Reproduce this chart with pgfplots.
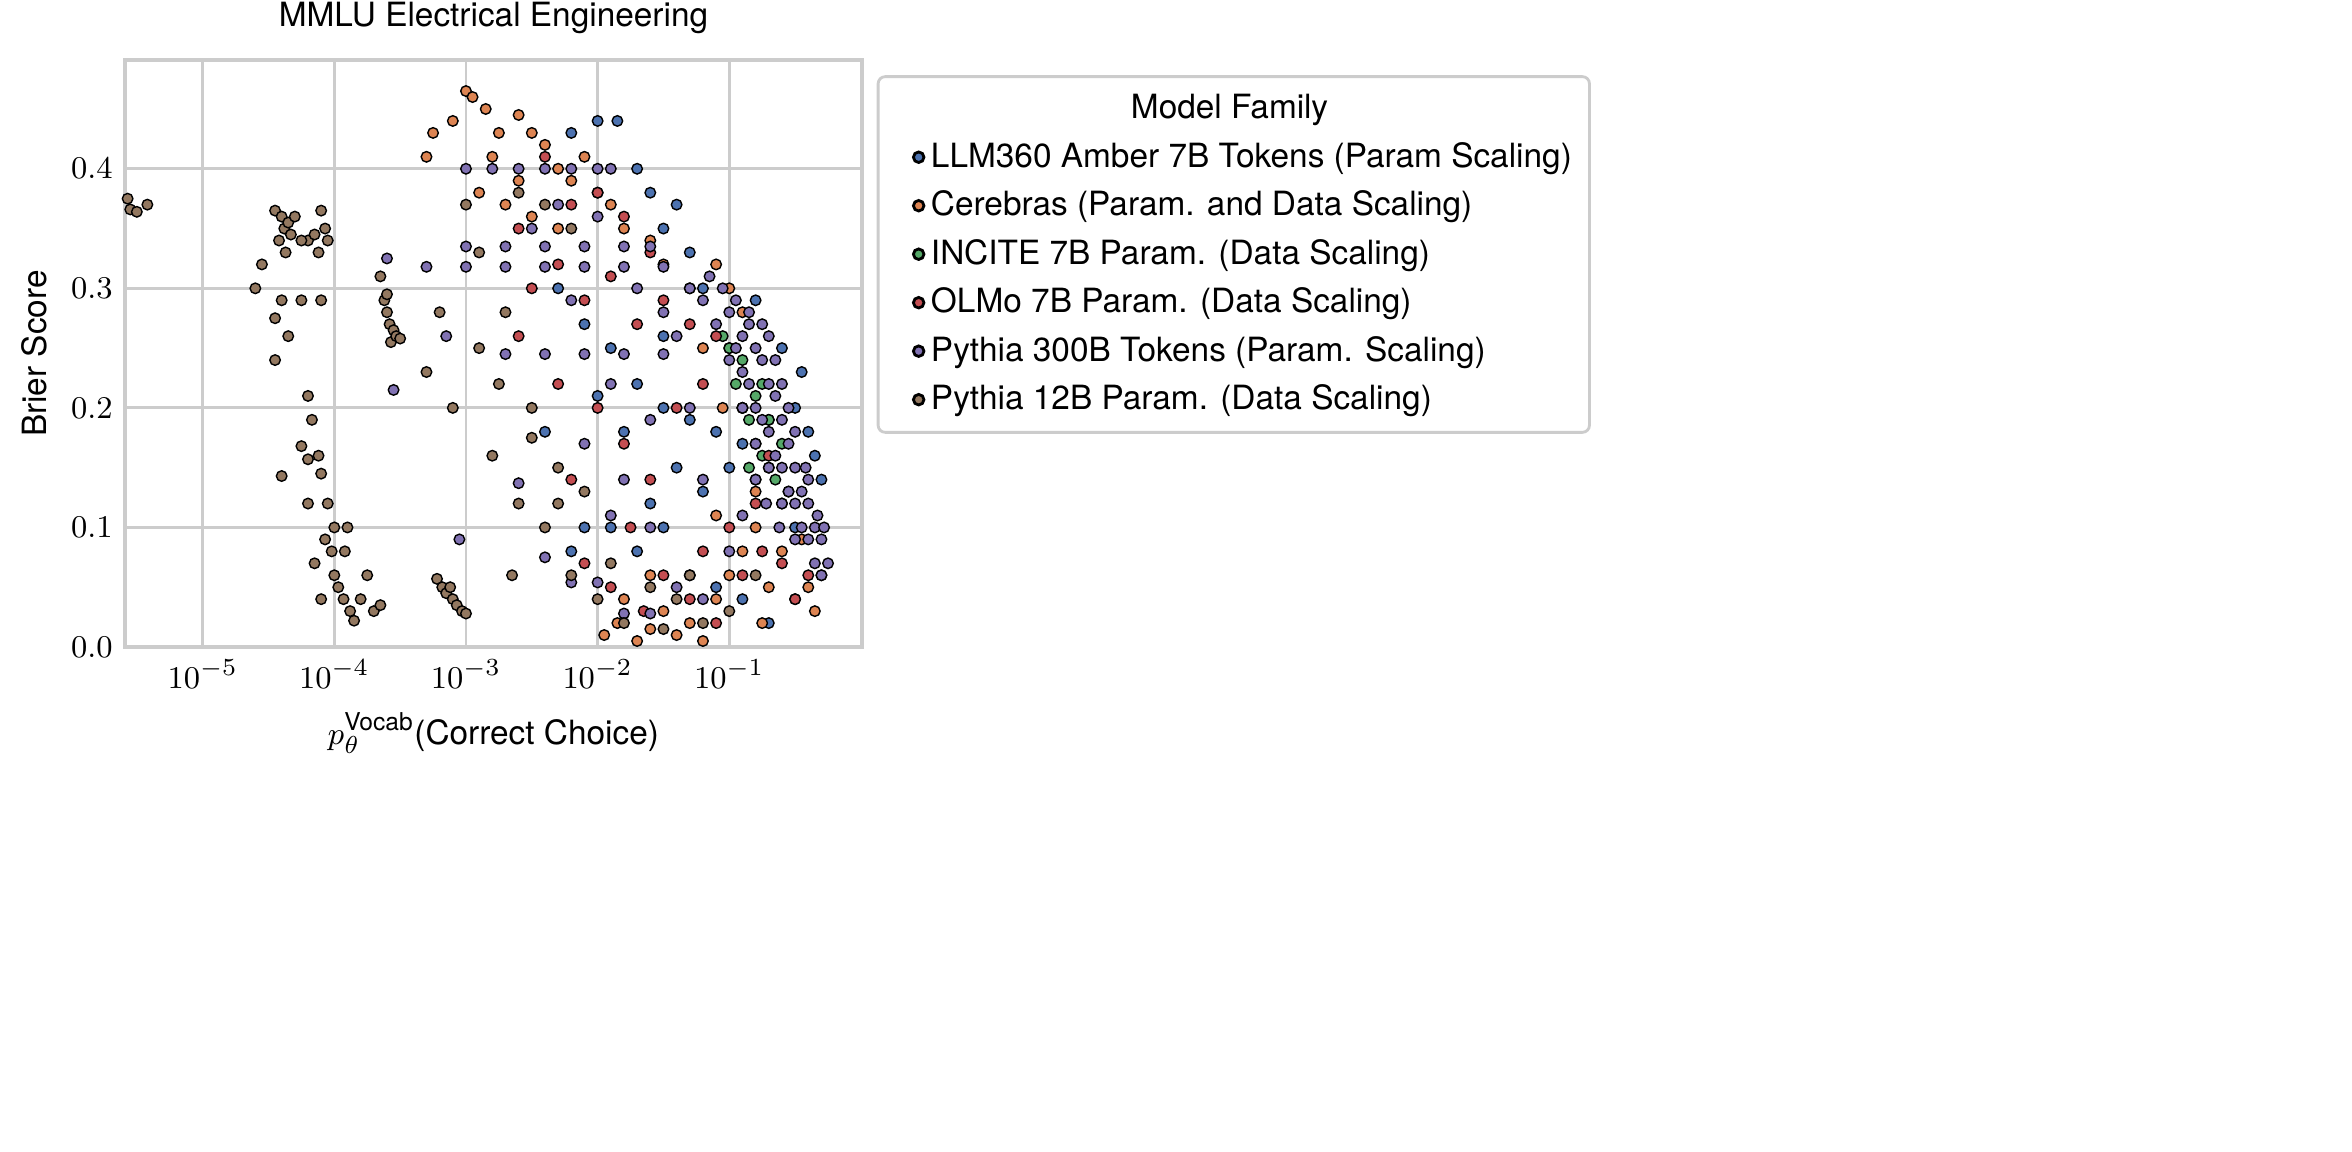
\documentclass[border=0pt]{standalone}
\usepackage{pgfplots}
\pgfplotsset{compat=1.18}
\usepackage{fontspec}
\setmainfont{TeX Gyre Heros}
\definecolor{cB}{HTML}{4C72B0}
\definecolor{cO}{HTML}{DD8452}
\definecolor{cG}{HTML}{55A868}
\definecolor{cR}{HTML}{C44E52}
\definecolor{cP}{HTML}{8172B3}
\definecolor{cN}{HTML}{937860}
\definecolor{gr}{HTML}{CCCCCC}
\begin{document}
\begin{tikzpicture}[x=1cm,y=1cm]
\path[use as bounding box] (-1.25,-5.05) rectangle (22.27,6.47);
\begin{axis}[at={(0,0)},anchor=south west,scale only axis,width=7.37cm,height=5.87cm,
 xmin=-5.59,xmax=0.008,ymin=0,ymax=0.491,
 xtick={-5,-4,-3,-2,-1},xticklabels={$10^{-5}$,$10^{-4}$,$10^{-3}$,$10^{-2}$,$10^{-1}$},
 ytick={0,0.1,0.2,0.3,0.4},yticklabel style={/pgf/number format/.cd,fixed,fixed zerofill,precision=1},
 grid=major,grid style={gr,line width=0.8pt},axis line style={gr,line width=1.2pt},
 major tick length=0pt,
 tick label style={font=\fontsize{9.5}{11}\selectfont},
 label style={font=\fontsize{9.5}{11}\selectfont},
 title style={font=\fontsize{9.5}{11}\selectfont,yshift=-2pt},
 title={MMLU Electrical Engineering},
 xlabel={$p_\theta^{\mbox{\fontsize{7}{8}\selectfont Vocab}}$(Correct Choice)},
 ylabel={Brier Score},
 legend style={at={(1.02,0.974)},anchor=north west,draw=gr,line width=0.8pt,rounded corners=2pt,
  font=\fontsize{9.5}{11}\selectfont,row sep=1.2pt,inner sep=3pt,cells={anchor=west}},
 legend cell align=left,
 every axis plot/.append style={only marks,mark=*,mark size=1.5pt,mark options={draw=white,line width=0.25pt}},
]
\addlegendimage{empty legend}
\addlegendentry{\hspace*{2.0cm}Model Family}
\addplot[mark options={fill=cB}] coordinates {(-2.0,0.44)(-1.85,0.44)(-2.2,0.43)(-1.7,0.4)(-1.6,0.38)(-1.5,0.35)(-1.4,0.37)(-1.3,0.33)(-1.2,0.3)(-2.3,0.3)(-2.1,0.27)(-1.9,0.25)(-1.7,0.22)(-1.5,0.2)(-1.3,0.19)(-1.1,0.18)(-0.9,0.17)(-0.7,0.19)(-0.5,0.2)(-0.4,0.18)(-0.3,0.14)(-1.4,0.15)(-1.2,0.13)(-1.0,0.15)(-0.8,0.14)(-0.6,0.12)(-1.6,0.12)(-1.9,0.1)(-2.1,0.1)(-2.2,0.08)(-1.7,0.08)(-1.5,0.1)(-1.3,0.06)(-1.1,0.05)(-0.9,0.04)(-0.7,0.02)(-0.5,0.1)(-0.45,0.23)(-0.6,0.25)(-0.8,0.29)(-1.5,0.26)(-1.8,0.18)(-2.4,0.18)(-2.0,0.21)(-1.0,0.25)(-0.35,0.16)};
\addlegendentry{LLM360 Amber 7B Tokens (Param Scaling)}
\addplot[mark options={fill=cO}] coordinates {(-3.3,0.41)(-3.25,0.43)(-3.1,0.44)(-3.0,0.465)(-2.95,0.46)(-2.85,0.45)(-2.75,0.43)(-2.6,0.445)(-2.5,0.43)(-2.4,0.42)(-2.3,0.4)(-2.2,0.39)(-2.1,0.41)(-2.0,0.38)(-1.9,0.37)(-2.9,0.38)(-2.7,0.37)(-2.5,0.36)(-2.3,0.35)(-2.8,0.41)(-2.6,0.39)(-1.8,0.35)(-1.6,0.34)(-1.5,0.32)(-1.3,0.3)(-1.1,0.32)(-1.0,0.3)(-0.9,0.28)(-1.95,0.01)(-1.85,0.02)(-1.7,0.005)(-1.6,0.015)(-1.5,0.03)(-1.4,0.01)(-1.3,0.02)(-1.2,0.005)(-1.1,0.04)(-1.0,0.06)(-0.9,0.08)(-0.8,0.1)(-0.7,0.05)(-0.6,0.08)(-0.5,0.04)(-0.4,0.05)(-0.35,0.03)(-0.3,0.06)(-0.45,0.09)(-0.8,0.13)(-0.75,0.02)(-1.05,0.2)(-1.2,0.25)(-1.1,0.11)(-1.6,0.06)(-1.8,0.04)};
\addlegendentry{Cerebras (Param. and Data Scaling)}
\addplot[mark options={fill=cG}] coordinates {(-1.0,0.25)(-0.95,0.22)(-0.9,0.2)(-0.85,0.19)(-0.8,0.17)(-0.75,0.16)(-0.7,0.15)(-0.65,0.14)(-0.9,0.24)(-0.8,0.21)(-0.7,0.19)(-0.6,0.17)(-0.85,0.15)(-1.05,0.26)(-0.75,0.22)};
\addlegendentry{INCITE 7B Param. (Data Scaling)}
\addplot[mark options={fill=cR}] coordinates {(-2.4,0.41)(-2.2,0.37)(-2.0,0.38)(-1.8,0.36)(-1.6,0.33)(-2.6,0.35)(-2.5,0.3)(-2.3,0.32)(-2.1,0.29)(-1.9,0.31)(-1.7,0.27)(-1.5,0.29)(-1.3,0.27)(-1.1,0.26)(-2.6,0.26)(-2.3,0.22)(-2.0,0.2)(-1.8,0.17)(-1.4,0.2)(-1.2,0.22)(-0.9,0.2)(-0.7,0.16)(-0.8,0.12)(-1.0,0.1)(-1.2,0.08)(-1.5,0.06)(-1.9,0.05)(-2.1,0.07)(-1.65,0.03)(-1.3,0.04)(-1.1,0.02)(-0.9,0.06)(-0.6,0.07)(-0.4,0.06)(-0.5,0.04)(-2.2,0.14)(-1.6,0.14)(-0.55,0.13)(-0.75,0.08)(-1.75,0.1)};
\addlegendentry{OLMo 7B Param. (Data Scaling)}
\addplot[mark options={fill=cP}] coordinates {(-1.2,0.29)(-1.15,0.31)(-1.1,0.27)(-1.05,0.3)(-1.0,0.28)(-0.95,0.29)(-0.9,0.26)(-0.85,0.27)(-0.8,0.25)(-0.75,0.24)(-0.7,0.22)(-0.65,0.21)(-0.6,0.19)(-0.55,0.17)(-0.5,0.15)(-0.45,0.13)(-0.4,0.12)(-0.35,0.1)(-0.3,0.09)(-0.25,0.07)(-0.95,0.25)(-0.9,0.23)(-0.85,0.22)(-0.8,0.2)(-0.75,0.19)(-0.7,0.18)(-0.65,0.16)(-0.6,0.15)(-0.55,0.13)(-0.5,0.12)(-0.45,0.1)(-0.4,0.09)(-0.35,0.07)(-0.3,0.06)(-1.0,0.24)(-0.9,0.2)(-0.8,0.17)(-0.7,0.15)(-0.6,0.12)(-0.5,0.09)(-0.42,0.15)(-0.55,0.2)(-0.65,0.24)(-0.75,0.27)(-0.85,0.28)(-0.7,0.26)(-0.6,0.22)(-0.5,0.18)(-0.4,0.14)(-0.33,0.11)(-0.28,0.1)(-0.62,0.1)(-0.72,0.12)(-0.8,0.14)(-3.0,0.4)(-2.8,0.4)(-2.6,0.4)(-2.4,0.4)(-2.2,0.4)(-2.0,0.4)(-1.9,0.4)(-3.0,0.335)(-2.7,0.335)(-2.4,0.335)(-2.1,0.335)(-1.8,0.335)(-1.6,0.335)(-3.3,0.318)(-3.0,0.318)(-2.7,0.318)(-2.4,0.318)(-2.1,0.318)(-1.8,0.318)(-1.5,0.318)(-2.7,0.245)(-2.4,0.245)(-2.1,0.245)(-1.8,0.245)(-1.5,0.245)(-2.5,0.35)(-2.3,0.37)(-2.0,0.36)(-1.7,0.3)(-1.5,0.28)(-1.3,0.3)(-1.4,0.26)(-2.2,0.29)(-1.9,0.22)(-1.6,0.19)(-1.8,0.14)(-2.4,0.075)(-2.2,0.054)(-2.0,0.054)(-1.8,0.028)(-1.6,0.028)(-1.4,0.05)(-1.2,0.04)(-3.05,0.09)(-3.55,0.215)(-2.6,0.137)(-1.9,0.11)(-2.1,0.17)(-1.6,0.1)(-1.3,0.2)(-3.6,0.325)(-3.15,0.26)(-1.2,0.14)(-1.0,0.08)(-0.9,0.11)};
\addlegendentry{Pythia 300B Tokens (Param. Scaling)}
\addplot[mark options={fill=cN}] coordinates {(-5.57,0.375)(-5.55,0.366)(-5.5,0.364)(-5.42,0.37)(-4.45,0.365)(-4.4,0.36)(-4.38,0.35)(-4.35,0.355)(-4.33,0.345)(-4.3,0.36)(-4.42,0.34)(-4.37,0.33)(-4.2,0.34)(-4.15,0.345)(-4.12,0.33)(-4.1,0.365)(-4.07,0.35)(-4.05,0.34)(-4.25,0.34)(-4.6,0.3)(-4.55,0.32)(-4.4,0.29)(-4.45,0.275)(-4.35,0.26)(-4.45,0.24)(-4.25,0.29)(-4.4,0.143)(-4.2,0.21)(-4.17,0.19)(-4.25,0.168)(-4.2,0.157)(-4.12,0.16)(-4.1,0.145)(-4.05,0.12)(-4.0,0.1)(-4.07,0.09)(-4.02,0.08)(-4.0,0.06)(-3.97,0.05)(-3.93,0.04)(-3.88,0.03)(-3.85,0.022)(-3.8,0.04)(-3.75,0.06)(-3.7,0.03)(-3.65,0.035)(-4.1,0.04)(-4.15,0.07)(-4.2,0.12)(-3.9,0.1)(-3.92,0.08)(-4.1,0.29)(-3.65,0.31)(-3.62,0.29)(-3.6,0.28)(-3.58,0.27)(-3.55,0.265)(-3.57,0.255)(-3.53,0.26)(-3.6,0.295)(-3.22,0.057)(-3.18,0.05)(-3.15,0.045)(-3.1,0.04)(-3.07,0.035)(-3.03,0.03)(-3.0,0.028)(-3.12,0.05)(-3.5,0.258)(-3.3,0.23)(-3.1,0.2)(-2.9,0.25)(-2.7,0.28)(-2.5,0.2)(-2.3,0.15)(-2.8,0.16)(-2.6,0.12)(-2.4,0.1)(-2.2,0.06)(-2.0,0.04)(-1.8,0.02)(-1.6,0.05)(-1.4,0.04)(-1.2,0.02)(-2.9,0.33)(-2.6,0.38)(-2.4,0.37)(-2.2,0.35)(-3.0,0.37)(-2.75,0.22)(-2.5,0.175)(-2.3,0.12)(-1.9,0.07)(-1.5,0.015)(-1.3,0.06)(-1.0,0.03)(-0.8,0.06)(-2.65,0.06)(-2.1,0.13)(-3.2,0.28)};
\addlegendentry{Pythia 12B Param. (Data Scaling)}
\end{axis}
\end{tikzpicture}
\end{document}
